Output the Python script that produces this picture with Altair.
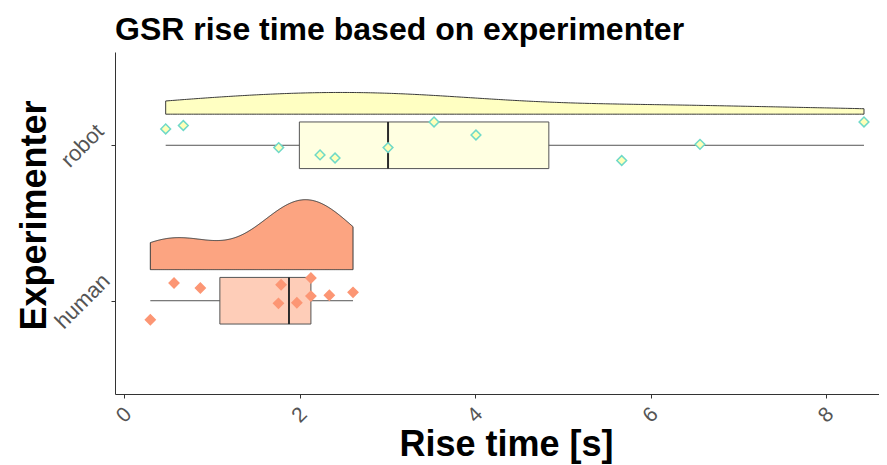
import altair as alt
import numpy as np
import pandas as pd

# ---- data ----
groups = ["human", "robot"]
group_pos = [1, 2]

human_values = [0.30, 0.57, 0.87, 1.79, 1.76, 1.97, 2.13, 2.13, 2.34, 2.61]
human_jitter = [-0.122, 0.114, 0.082, 0.103, -0.017, -0.013, 0.146, 0.030, 0.035, 0.054]

robot_values = [0.475, 0.676, 1.763, 2.234, 2.405, 3.009, 3.533, 4.011, 5.672, 6.564, 8.433]
robot_jitter = [0.105, 0.127, -0.015, -0.062, -0.082, -0.015, 0.150, 0.066, -0.098, 0.006, 0.150]

x_ticks = [0, 2, 4, 6, 8]

# ---- table ----
rows = []
for g, p, vals, jit in [("human", 1, human_values, human_jitter),
                        ("robot", 2, robot_values, robot_jitter)]:
    for v, j in zip(vals, jit):
        rows.append({"group": g, "pos": p, "value": v, "jit": j})
df = pd.DataFrame(rows)


def bw_nrd0(v):
    v = np.asarray(v, dtype=float)
    sd = v.std(ddof=1)
    q1, q3 = np.percentile(v, [25, 75])
    lo = min(sd, (q3 - q1) / 1.34)
    return 0.9 * lo * len(v) ** -0.2


def kde_max(v, bw):
    v = np.asarray(v, dtype=float)
    grid = np.linspace(v.min(), v.max(), 512)
    d = np.exp(-0.5 * ((grid[:, None] - v[None, :]) / bw) ** 2).sum(1)
    d /= len(v) * bw * np.sqrt(2 * np.pi)
    return d.max()


bw = {"human": bw_nrd0(human_values), "robot": bw_nrd0(robot_values)}
vmax = max(kde_max(human_values, bw["human"]), kde_max(robot_values, bw["robot"]))
VIOLIN_H = 0.45
factor = VIOLIN_H / vmax

FONT = "Liberation Sans"
xs = alt.Scale(domain=[-0.1026, 8.604], nice=False, zero=False)
ys = alt.Scale(domain=[0.4, 2.6], nice=False, zero=False)

xaxis = alt.Axis(values=x_ticks, title="Rise time [s]", labelAngle=-45, labelAlign="center",
                 labelBaseline="middle", labelPadding=17, tickSize=4, labelFontSize=21,
                 labelColor="#555555", labelFont=FONT, domainColor="#333333", tickColor="#333333",
                 titleFont=FONT, titleFontSize=36, titleFontWeight="bold", titleColor="black",
                 titleX=391, titleY=61, titleBaseline="alphabetic", titleAlign="center",
                 grid=False)
yaxis = alt.Axis(values=group_pos, title="Experimenter",
                 labelExpr="datum.value == 1 ? 'human' : 'robot'",
                 labelAngle=-45, labelAlign="center", labelBaseline="middle", labelPadding=29,
                 tickSize=4, labelFontSize=22, labelColor="#555555", labelFont=FONT,
                 domainColor="#333333", tickColor="#333333",
                 titleFont=FONT, titleFontSize=36, titleFontWeight="bold", titleColor="black",
                 titleAngle=-90, titleX=-70, titleY=163, titleBaseline="alphabetic",
                 titleAlign="center", grid=False)

violin_fill = {"human": "#FCA481", "robot": "#FFFFC2"}
box_fill = {"human": "#FECDB8", "robot": "#FFFFE1"}

layers = []
for g, p, vals in [("human", 1, human_values), ("robot", 2, robot_values)]:
    layers.append(
        alt.Chart(df)
        .transform_filter(alt.datum.group == g)
        .transform_density("value", bandwidth=bw[g], extent=[min(vals), max(vals)],
                           steps=300, as_=["value", "density"])
        .transform_calculate(ytop=f"{p + 0.2} + datum.density * {factor}", ybase=f"{p + 0.2}")
        .mark_area(orient="vertical", fill=violin_fill[g], stroke="#3a3a3a", strokeWidth=1)
        .encode(x=alt.X("value:Q", scale=xs, axis=xaxis),
                y=alt.Y("ytop:Q", scale=ys, axis=yaxis),
                y2="ybase:Q")
    )

stats = (
    alt.Chart(df)
    .transform_aggregate(q1="q1(value)", med="median(value)", q3="q3(value)",
                         lo="min(value)", hi="max(value)", groupby=["group", "pos"])
    .transform_calculate(blo="datum.pos - 0.15", bhi="datum.pos + 0.15")
)

whisk = stats.mark_rule(color="#555555", strokeWidth=1).encode(
    x=alt.X("lo:Q", scale=xs, axis=xaxis), x2="hi:Q",
    y=alt.Y("pos:Q", scale=ys, axis=yaxis))

box = stats.mark_rect(stroke="#555555", strokeWidth=1).encode(
    x=alt.X("q1:Q", scale=xs, axis=xaxis), x2="q3:Q",
    y=alt.Y("blo:Q", scale=ys, axis=yaxis), y2="bhi:Q",
    fill=alt.Fill("group:N", scale=alt.Scale(domain=groups,
                                             range=[box_fill[g] for g in groups]), legend=None))

med = stats.mark_rule(color="#2a2a2a", strokeWidth=2).encode(
    x=alt.X("med:Q", scale=xs, axis=xaxis),
    y=alt.Y("blo:Q", scale=ys, axis=yaxis), y2="bhi:Q")

pts = (
    alt.Chart(df)
    .transform_calculate(py="datum.pos + datum.jit")
    .mark_point(shape="diamond", filled=True, size=95, strokeWidth=1.5, opacity=1)
    .encode(
        x=alt.X("value:Q", scale=xs, axis=xaxis),
        y=alt.Y("py:Q", scale=ys, axis=yaxis),
        fill=alt.Fill("group:N", scale=alt.Scale(domain=groups, range=["#FC9674", "#FFFFB8"]),
                      legend=None),
        stroke=alt.Stroke("group:N", scale=alt.Scale(domain=groups, range=["#FC9674", "#6FD9C8"]),
                          legend=None),
    )
)

chart = (
    alt.layer(*layers, whisk, box, med, pts)
    .resolve_scale(fill="independent", stroke="independent")
    .properties(
        width=764, height=342,
        autosize=alt.AutoSizeParams(type="none"),
        padding={"left": 107, "top": 44, "right": 0, "bottom": 70},
        title=alt.TitleParams("GSR rise time based on experimenter", anchor="start",
                              frame="group", fontSize=32, fontWeight="bold", font=FONT,
                              color="black", baseline="alphabetic", offset=14, dy=34),
    )
    .configure_view(stroke=None)
    .configure_axis(grid=False)
)

chart.save("out.html", embed_options={"renderer": "svg", "actions": False})
